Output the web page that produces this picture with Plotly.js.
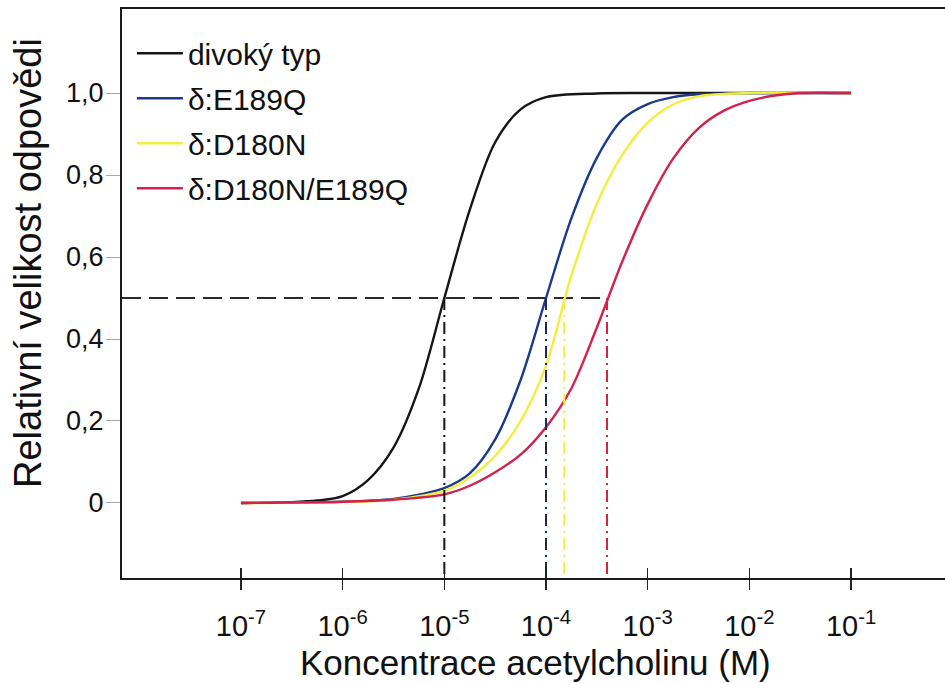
<!DOCTYPE html>
<html>
<head>
<meta charset="utf-8">
<script src="https://cdn.plot.ly/plotly-3.0.1.min.js"></script>
<style>
  html, body { margin: 0; padding: 0; background: #fff; }
  #chart { width: 945px; height: 683px; }
</style>
</head>
<body>
<div id="chart"></div>
<script>
// Dose-response curves: relative response vs. acetylcholine concentration (log10 M)
const seriesNames = ['divoký typ', 'δ:E189Q', 'δ:D180N', 'δ:D180N/E189Q'];
const seriesColors = ['#161616', '#1c3a8a', '#f2ee3c', '#d2224c'];
const ec50LineColors = ['#161616', '#1a2a5a', '#f2ee3c', '#d2224c'];

const logConcWild = [-7, -6.5, -6.25, -6, -5.75, -5.5, -5.25, -5, -4.75, -4.5, -4.25, -4, -3.5, -3, -2, -1];
const respWild = [0, 0.002, 0.006, 0.017, 0.056, 0.135, 0.28, 0.5, 0.715, 0.88, 0.96, 0.99, 0.999, 1, 1, 1];

const logConcE189Q = [-7, -6, -5.5, -5.25, -5, -4.75, -4.5, -4.25, -4, -3.75, -3.5, -3.25, -3, -2.75, -2.5, -2, -1];
const respE189Q = [0, 0.003, 0.01, 0.02, 0.036, 0.072, 0.155, 0.3, 0.5, 0.695, 0.842, 0.935, 0.973, 0.99, 0.997, 1, 1];

const logConcD180N = [-7, -6, -5.5, -5, -4.75, -4.5, -4.25, -4, -3.75, -3.5, -3.25, -3, -2.75, -2.5, -2, -1];
const respD180N = [0, 0.002, 0.008, 0.03, 0.062, 0.115, 0.2, 0.335, 0.555, 0.73, 0.849, 0.928, 0.972, 0.992, 1, 1];

const logConcDouble = [-7, -6, -5.5, -5, -4.75, -4.5, -4.25, -4, -3.75, -3.5, -3.25, -3, -2.75, -2.5, -2.25, -2, -1.75, -1.5, -1];
const respDouble = [0, 0.003, 0.008, 0.021, 0.042, 0.075, 0.118, 0.185, 0.28, 0.428, 0.589, 0.729, 0.84, 0.914, 0.957, 0.981, 0.994, 1, 1];

// log10 of the half-maximal concentrations marked by the guide lines
const ec50Log = [-5.0, -4.0, -3.82, -3.40];
const halfResponse = 0.5;

const xTickLog = [-7, -6, -5, -4, -3, -2, -1];
const xTickText = ['10<sup>-7</sup>', '10<sup>-6</sup>', '10<sup>-5</sup>', '10<sup>-4</sup>',
                   '10<sup>-3</sup>', '10<sup>-2</sup>', '10<sup>-1</sup>'];
const yTickVals = [0, 0.2, 0.4, 0.6, 0.8, 1.0];
const yTickText = ['0', '0,2', '0,4', '0,6', '0,8', '1,0'];

const xTitle = 'Koncentrace acetylcholinu (M)';
const yTitle = 'Relativní velikost odpovědi';

const xRangeLog = [-8.17, -0.076];
const yRange = [-0.183, 1.205];

const toConc = arr => arr.map(v => Math.pow(10, v));
const FONT = 'Liberation Sans, Arial, Helvetica, sans-serif';

const curves = [
  [logConcWild, respWild],
  [logConcE189Q, respE189Q],
  [logConcD180N, respD180N],
  [logConcDouble, respDouble]
];

const traces = [];

// horizontal dashed guide at half response, from the y axis to the last EC50
traces.push({
  x: toConc([xRangeLog[0], Math.max(...ec50Log)]),
  y: [halfResponse, halfResponse],
  mode: 'lines',
  line: { color: '#2a2a2a', width: 1.8, dash: '19px,8px' },
  showlegend: false, hoverinfo: 'skip', cliponaxis: false
});

// vertical dash-dot guides from each EC50 down to the x axis
ec50Log.forEach((lx, i) => {
  traces.push({
    x: toConc([lx, lx]),
    y: [halfResponse, yRange[0]],
    xaxis: 'x2',
    mode: 'lines',
    line: { color: ec50LineColors[i], width: 2, dash: '12px,5px,2px,5px' },
    showlegend: false, hoverinfo: 'skip'
  });
});

// the four dose-response curves
curves.forEach(([lx, ry], i) => {
  traces.push({
    x: toConc(lx),
    y: ry,
    name: seriesNames[i],
    legendgroup: 'g' + i,
    mode: 'lines',
    line: { color: seriesColors[i], width: 2.4, shape: 'spline', smoothing: 0.9 }
  });
});

const tickValsConc = toConc(xTickLog);

const layout = {
  width: 945, height: 683,
  margin: { l: 122, r: 0, t: 9, b: 105 },
  paper_bgcolor: '#fff', plot_bgcolor: '#fff',
  font: { family: FONT, color: '#111' },
  showlegend: true,
  legend: {
    x: 0.012, y: 0.968, xanchor: 'left', yanchor: 'top',
    bgcolor: 'rgba(0,0,0,0)',
    font: { family: FONT, size: 30, color: '#111' },
    tracegroupgap: 3,
    itemwidth: 46
  },
  xaxis: {
    type: 'log', range: xRangeLog,
    tickmode: 'array', tickvals: tickValsConc, ticktext: xTickText,
    ticks: 'outside', ticklen: 10, tickwidth: 1.5, tickcolor: '#222',
    ticklabelstandoff: 11,
    tickfont: { family: FONT, size: 29, color: '#111' },
    showline: true, linecolor: '#1a1a1a', linewidth: 2, mirror: true,
    showgrid: false, zeroline: false,
    fixedrange: true
  },
  xaxis2: {
    type: 'log', overlaying: 'x', matches: 'x', anchor: 'y', side: 'bottom',
    range: xRangeLog,
    tickmode: 'array', tickvals: tickValsConc,
    ticks: 'inside', ticklen: 10, tickwidth: 1.5, tickcolor: '#222',
    showticklabels: false, showline: false, showgrid: false, zeroline: false,
    fixedrange: true
  },
  yaxis: {
    range: yRange,
    tickmode: 'array', tickvals: yTickVals, ticktext: yTickText,
    ticks: 'outside', ticklen: 14, tickwidth: 1, tickcolor: '#a8a8a8',
    ticklabelstandoff: -3,
    tickfont: { family: FONT, size: 27, color: '#111' },
    showline: true, linecolor: '#1a1a1a', linewidth: 2,
    showgrid: false, zeroline: false,
    fixedrange: true
  },
  annotations: [
    {
      text: xTitle, xref: 'paper', yref: 'paper', x: 0.503, y: -0.149,
      xanchor: 'center', yanchor: 'middle', showarrow: false,
      font: { family: FONT, size: 35, color: '#111' }
    },
    {
      text: yTitle, xref: 'paper', yref: 'paper', x: -0.1142, y: 0.5536,
      xanchor: 'center', yanchor: 'middle', textangle: -90, showarrow: false,
      font: { family: FONT, size: 38, color: '#111' }
    }
  ]
};

Plotly.newPlot('chart', traces, layout, { staticPlot: true, displayModeBar: false });
</script>
</body>
</html>
